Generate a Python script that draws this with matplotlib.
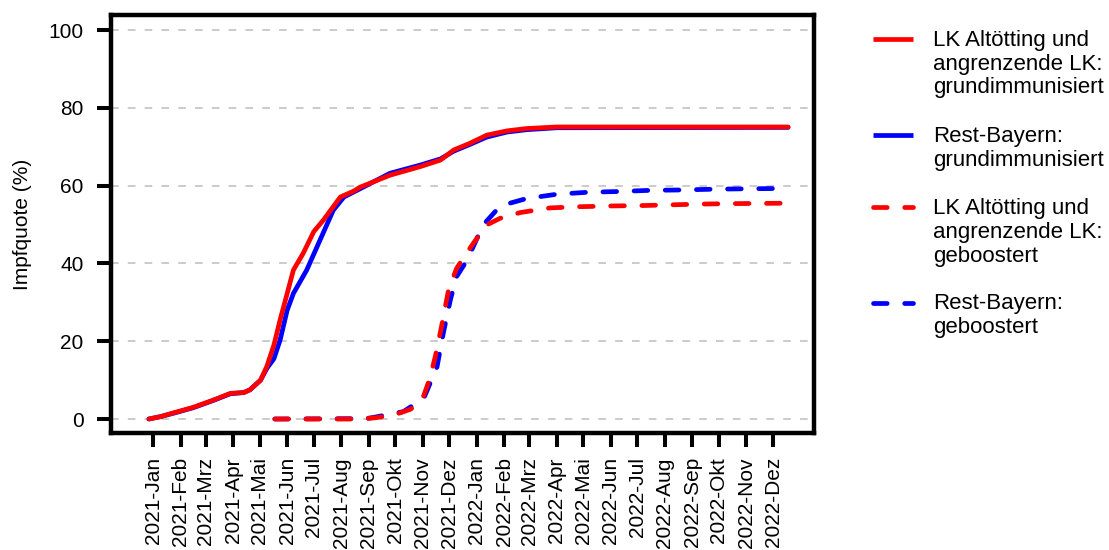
import pandas as pd
import matplotlib
matplotlib.use("Agg")
import matplotlib.pyplot as plt
from matplotlib.lines import Line2D

plt.rcParams['font.family'] = ['Liberation Sans', 'DejaVu Sans']

# LK Altoetting und angrenzende LK: grundimmunisiert
lk_grund_dates = ["2020-12-27", "2021-01-09", "2021-01-24", "2021-02-15", "2021-03-10",
                  "2021-03-29", "2021-04-13", "2021-04-20", "2021-05-02", "2021-05-09",
                  "2021-05-17", "2021-05-24", "2021-06-01", "2021-06-08", "2021-06-19",
                  "2021-07-01", "2021-07-12", "2021-07-20", "2021-07-31", "2021-08-15",
                  "2021-08-22", "2021-09-25", "2021-10-29", "2021-11-21", "2021-12-06",
                  "2021-12-24", "2022-01-12", "2022-02-04", "2022-02-26", "2022-04-01",
                  "2022-12-18"]
lk_grund = [0, 0.6, 1.6, 3.0, 4.9,
            6.6, 6.8, 7.5, 10.0, 13.5,
            19.0, 25.5, 32.3, 38.3, 42.6,
            48.2, 51.2, 53.7, 57.1, 58.6,
            59.6, 62.7, 64.9, 66.6, 69.2,
            70.9, 73.0, 74.1, 74.7, 75.1,
            75.1]

# Rest-Bayern: grundimmunisiert
by_grund_dates = ["2020-12-27", "2021-01-09", "2021-01-24", "2021-02-15", "2021-03-10",
                  "2021-03-29", "2021-04-13", "2021-04-20", "2021-05-02", "2021-05-09",
                  "2021-05-17", "2021-05-24", "2021-06-01", "2021-06-08", "2021-06-23",
                  "2021-07-08", "2021-07-23", "2021-08-04", "2021-08-17", "2021-09-25",
                  "2021-10-29", "2021-11-21", "2021-12-06", "2021-12-24", "2022-01-12",
                  "2022-02-04", "2022-02-26", "2022-04-01", "2022-12-18"]
by_grund = [0, 0.6, 1.5, 2.9, 4.8,
            6.5, 6.8, 7.5, 10.0, 13.0,
            15.5, 20.3, 28.0, 32.3, 38.3,
            46.0, 53.7, 57.1, 58.6, 63.2,
            65.3, 66.9, 68.9, 70.6, 72.5,
            73.8, 74.4, 74.9, 75.0]

# LK Altoetting und angrenzende LK: geboostert
lk_boost_dates = ["2021-05-18", "2021-08-22", "2021-09-08", "2021-09-29", "2021-10-18",
                  "2021-10-25", "2021-11-02", "2021-11-09", "2021-11-15", "2021-11-22",
                  "2021-11-30", "2021-12-09", "2021-12-17", "2021-12-28", "2022-01-12",
                  "2022-01-27", "2022-02-19", "2022-03-25", "2022-04-27", "2022-06-04",
                  "2022-07-08", "2022-08-11", "2022-09-17", "2022-10-21", "2022-12-18"]
lk_boost = [0, 0, 0.3, 1.0, 2.5,
            3.6, 6.0, 10.5, 16.0, 23.7,
            33.2, 38.7, 41.5, 45.2, 49.9,
            51.6, 53.1, 54.3, 54.6, 54.8,
            54.9, 55.1, 55.3, 55.4, 55.5]

# Rest-Bayern: geboostert
by_boost_dates = ["2021-05-18", "2021-08-29", "2021-09-06", "2021-10-10", "2021-11-02",
                  "2021-11-17", "2021-11-24", "2021-12-02", "2021-12-09", "2021-12-21",
                  "2022-01-08", "2022-01-23", "2022-02-04", "2022-02-26", "2022-04-01",
                  "2022-05-05", "2022-06-08", "2022-07-15", "2022-08-18", "2022-09-25",
                  "2022-10-29", "2022-12-18"]
by_boost = [0, 0.1, 0.4, 1.9, 5.3,
            13.4, 22.0, 30.6, 36.6, 40.9,
            49.9, 53.7, 55.3, 56.7, 57.8,
            58.3, 58.5, 58.8, 58.9, 59.1,
            59.2, 59.3]

monate = ["Jan", "Feb", "Mrz", "Apr", "Mai", "Jun", "Jul", "Aug", "Sep", "Okt", "Nov", "Dez"]
tick_dates = pd.date_range("2021-01-01", "2022-12-01", freq="MS")
tick_labels = [f"{d.year}-{monate[d.month - 1]}" for d in tick_dates]

legend_labels = ["LK Altötting und\nangrenzende LK:\ngrundimmunisiert",
                 "Rest-Bayern:\ngrundimmunisiert",
                 "LK Altötting und\nangrenzende LK:\ngeboostert",
                 "Rest-Bayern:\ngeboostert"]

W, H = 1109, 550
fig = plt.figure(figsize=(W / 100, H / 100), dpi=100)
ax = fig.add_axes([110.5 / W, 1 - 433 / H, (814 - 110.5) / W, (433 - 15) / H])

lw = 3.4
dash = (0, (2.9, 3.7))
ax.plot(pd.to_datetime(by_grund_dates), by_grund, color="#0000FF", lw=lw,
        solid_capstyle="round", zorder=3)
ax.plot(pd.to_datetime(lk_grund_dates), lk_grund, color="#FF0000", lw=lw,
        solid_capstyle="round", zorder=4)
ax.plot(pd.to_datetime(by_boost_dates), by_boost, color="#0000FF", lw=lw,
        linestyle=dash, dash_capstyle="round", zorder=3)
ax.plot(pd.to_datetime(lk_boost_dates), lk_boost, color="#FF0000", lw=lw,
        linestyle=dash, dash_capstyle="round", zorder=4)

ax.set_xlim(pd.Timestamp("2021-01-01") - pd.Timedelta(days=48.3),
            pd.Timestamp("2021-01-01") + pd.Timedelta(days=745.2))
ax.set_ylim(-3.6, 103.9)

ax.set_yticks([0, 20, 40, 60, 80, 100])
ax.yaxis.grid(True, color="#bdbdbd", lw=1.1, linestyle=(0, (5, 6)), zorder=1)
ax.set_axisbelow(True)

ax.set_xticks(tick_dates)
ax.set_xticklabels(tick_labels, rotation=90, fontsize=15)
ax.tick_params(axis="y", labelsize=15)
ax.tick_params(axis="both", length=10.4, width=2.9, direction="out", pad=7)
ax.tick_params(axis="y", pad=9)

for s in ax.spines.values():
    s.set_linewidth(3.2)

ax.set_ylabel("Impfquote (%)", fontsize=15)
ax.yaxis.set_label_coords((32 - 110.5) / (814 - 110.5), 0.5)

# legend, drawn beside the plot
handle_y = [39, 135, 207, 303]
top_y = [29.7, 126.4, 198, 293]
styles = [("#FF0000", "-"), ("#0000FF", "-"), ("#FF0000", dash), ("#0000FF", dash)]
for hy, ty, (c, ls), lab in zip(handle_y, top_y, styles, legend_labels):
    fig.add_artist(Line2D([873 / W, 913 / W], [1 - hy / H, 1 - hy / H], color=c, lw=lw,
                          linestyle=ls, dash_capstyle="round", solid_capstyle="butt"))
    fig.text(933 / W, 1 - ty / H, lab, fontsize=16, va="top", ha="left",
             linespacing=1.18)

fig.savefig("out.png", dpi=100)
